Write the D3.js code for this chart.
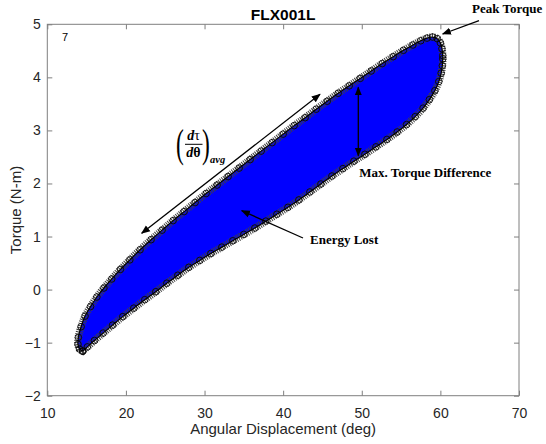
<!DOCTYPE html>
<html><head><meta charset="utf-8">
<script src="https://cdn.jsdelivr.net/npm/d3@7"></script>
<style>html,body{margin:0;padding:0;background:#fff}</style>
</head><body><svg id="chart" width="546" height="444"></svg>
<script>
// Torque–angle hysteresis loop for trial FLX001L
const chartTitle = "FLX001L";
const xTicks = [10, 20, 30, 40, 50, 60, 70];
const yTicks = [-2, -1, 0, 1, 2, 3, 4, 5];

// Loading branch (angle in deg, torque in N-m)
const loadAngle = [14.5, 14.1, 13.9, 13.95, 14.3, 14.8, 15.5, 16.3, 17.2, 18.2, 19.3, 20.5, 21.8, 23.2, 24.6, 26.0, 27.4, 28.8, 30.2, 31.6, 33.0, 34.4, 35.8, 37.2, 38.6, 40.0, 41.4, 42.8, 44.2, 45.6, 47.0, 48.4, 49.8, 51.2, 52.6, 54.0, 55.3, 56.5, 57.5, 58.3, 59.0, 59.6, 60.0, 60.2, 60.3];
const loadTorque = [-1.16, -1.12, -1.03, -0.9, -0.7, -0.5, -0.32, -0.14, 0.03, 0.2, 0.38, 0.56, 0.75, 0.94, 1.12, 1.3, 1.47, 1.64, 1.81, 1.97, 2.13, 2.29, 2.45, 2.61, 2.77, 2.93, 3.09, 3.24, 3.4, 3.55, 3.7, 3.84, 3.98, 4.12, 4.26, 4.39, 4.51, 4.61, 4.69, 4.74, 4.76, 4.73, 4.65, 4.54, 4.41];

// Unloading branch
const unloadAngle = [60.3, 60.25, 60.1, 59.8, 59.3, 58.6, 57.8, 56.8, 55.7, 54.5, 53.2, 51.8, 50.4, 49.0, 47.6, 46.2, 44.8, 43.4, 42.0, 40.6, 39.2, 37.8, 36.4, 35.0, 33.6, 32.2, 30.8, 29.4, 28.0, 26.6, 25.2, 23.8, 22.4, 21.0, 19.6, 18.3, 17.1, 16.0, 15.1, 14.5];
const unloadTorque = [4.35, 4.22, 4.08, 3.92, 3.75, 3.58, 3.42, 3.26, 3.11, 2.97, 2.83, 2.69, 2.55, 2.42, 2.28, 2.14, 1.99, 1.84, 1.69, 1.55, 1.42, 1.29, 1.16, 1.04, 0.92, 0.8, 0.68, 0.55, 0.42, 0.27, 0.12, -0.04, -0.19, -0.35, -0.51, -0.67, -0.82, -0.96, -1.08, -1.16];

const svg = d3.select("#chart");
svg.append("rect").attr("width", 546).attr("height", 444).attr("fill", "#fff");

const x = d3.scaleLinear().domain([10, 70]).range([47.3, 519]);
const y = d3.scaleLinear().domain([-2, 5]).range([395.7, 24.3]);
const [x0, x1] = x.range();
const [y0, y1] = y.range();

const loop = loadAngle.map((a, i) => [a, loadTorque[i]])
  .concat(unloadAngle.map((a, i) => [a, unloadTorque[i]]));

// Energy-lost area
const outline = d3.line().x(d => x(d[0])).y(d => y(d[1])).curve(d3.curveCatmullRomClosed);
svg.append("path").attr("d", outline(loop)).attr("fill", "#0000ff");

// Marker band along the loop outline
svg.append("path").attr("d", outline(loop)).attr("fill", "none")
  .attr("stroke", "#404040").attr("stroke-width", 7.5).attr("stroke-dasharray", "1 1.1");
svg.append("g").selectAll("circle").data(loop).join("circle")
  .attr("cx", d => x(d[0])).attr("cy", d => y(d[1])).attr("r", 3.3)
  .attr("fill", "none").attr("stroke", "#000").attr("stroke-width", 0.8);
svg.append("path").attr("d", outline(loop)).attr("fill", "none")
  .attr("stroke", "#000").attr("stroke-width", 1.2);

// Axes box with inward ticks
const axisColor = "#7f7f7f", textColor = "#262626";
const gBottom = svg.append("g").attr("transform", `translate(0,${y0})`)
  .call(d3.axisBottom(x).tickValues(xTicks).tickSizeInner(-5).tickSizeOuter(0).tickPadding(12));
const gLeft = svg.append("g").attr("transform", `translate(${x0},0)`)
  .call(d3.axisLeft(y).tickValues(yTicks).tickSizeInner(-5).tickSizeOuter(0).tickPadding(6.5).tickFormat(d3.format("d")));
const gTop = svg.append("g").attr("transform", `translate(0,${y1})`)
  .call(d3.axisTop(x).tickValues(xTicks).tickSizeInner(-5).tickSizeOuter(0).tickFormat(""));
const gRight = svg.append("g").attr("transform", `translate(${x1},0)`)
  .call(d3.axisRight(y).tickValues(yTicks).tickSizeInner(-5).tickSizeOuter(0).tickFormat(""));
[gBottom, gLeft, gTop, gRight].forEach(g => {
  g.select(".domain").remove();
  g.selectAll("line").attr("stroke", axisColor);
  g.selectAll("text").attr("fill", textColor).attr("font-family", "Liberation Sans, Arial, sans-serif").attr("font-size", 14);
});
svg.append("rect").attr("x", x0).attr("y", y1).attr("width", x1 - x0).attr("height", y0 - y1)
  .attr("fill", "none").attr("stroke", axisColor).attr("stroke-width", 1);

// Titles
svg.append("text").attr("x", (x0 + x1) / 2).attr("y", 20).attr("text-anchor", "middle")
  .attr("font-family", "Liberation Sans, Arial, sans-serif").attr("font-weight", "bold").attr("font-size", 15.5)
  .attr("fill", "#000").text(chartTitle);
svg.append("text").attr("x", (x0 + x1) / 2).attr("y", 434).attr("text-anchor", "middle")
  .attr("font-family", "Liberation Sans, Arial, sans-serif").attr("font-size", 15)
  .attr("fill", textColor).text("Angular Displacement (deg)");
svg.append("text").attr("transform", `translate(21,${(y0 + y1) / 2}) rotate(-90)`).attr("text-anchor", "middle")
  .attr("font-family", "Liberation Sans, Arial, sans-serif").attr("font-size", 15)
  .attr("fill", textColor).text("Torque (N-m)");
svg.append("text").attr("x", 62).attr("y", 41)
  .attr("font-family", "Liberation Sans, Arial, sans-serif").attr("font-size", 11)
  .attr("fill", "#000").text("7");

// Annotation arrows
const defs = svg.append("defs");
defs.append("marker").attr("id", "head").attr("viewBox", "0 0 10 10").attr("refX", 9).attr("refY", 5)
  .attr("markerWidth", 7).attr("markerHeight", 7).attr("orient", "auto-start-reverse")
  .append("path").attr("d", "M0,1 L10,5 L0,9 Z").attr("fill", "#000");

function arrow(ax, ay, bx, by, both) {
  const l = svg.append("line").attr("x1", ax).attr("y1", ay).attr("x2", bx).attr("y2", by)
    .attr("stroke", "#000").attr("stroke-width", 1.3).attr("marker-end", "url(#head)");
  if (both) l.attr("marker-start", "url(#head)");
}
arrow(479, 20.7, 442.7, 34, false);
arrow(358.3, 87.3, 358.3, 155.7, true);
arrow(141.7, 233.3, 320, 94.3, true);
arrow(303, 238, 241.7, 210.7, false);

const serif = "Liberation Serif, Times New Roman, serif";
function label(tx, ty, s) {
  svg.append("text").attr("x", tx).attr("y", ty).attr("font-family", serif)
    .attr("font-weight", "bold").attr("font-size", 13).attr("fill", "#000").text(s);
}
label(472, 13.3, "Peak Torque");
label(359.3, 176.7, "Max. Torque Difference");
label(310, 244, "Energy Lost");

// (dτ/dθ)avg
const frac = svg.append("g").attr("font-family", serif).attr("fill", "#000");
frac.append("text").attr("transform", "translate(176,157) scale(0.6,1)").attr("font-size", 39).text("(");
frac.append("text").attr("transform", "translate(202,157) scale(0.6,1)").attr("font-size", 39).text(")");
const num = frac.append("text").attr("x", 193.5).attr("y", 140).attr("text-anchor", "middle").attr("font-size", 14);
num.append("tspan").attr("font-weight", "bold").attr("font-style", "italic").text("d");
num.append("tspan").text("τ");
frac.append("line").attr("x1", 185).attr("x2", 202.5).attr("y1", 144.3).attr("y2", 144.3).attr("stroke", "#000").attr("stroke-width", 1);
const den = frac.append("text").attr("x", 193.5).attr("y", 156.7).attr("text-anchor", "middle").attr("font-size", 14).attr("font-weight", "bold");
den.append("tspan").attr("font-style", "italic").text("d");
den.append("tspan").text("θ");
frac.append("text").attr("x", 210).attr("y", 162.5).attr("font-size", 10.5).attr("font-weight", "bold").attr("font-style", "italic").text("avg");
</script></body></html>
